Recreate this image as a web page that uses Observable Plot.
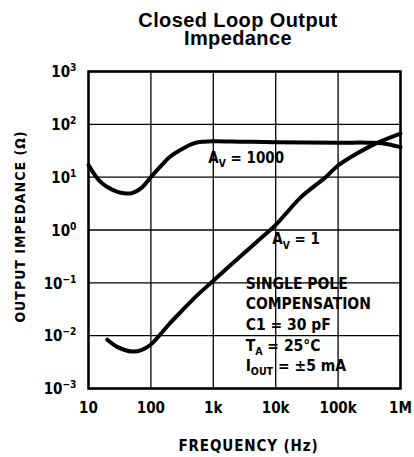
<!DOCTYPE html>
<html><head><meta charset="utf-8">
<script src="https://cdn.jsdelivr.net/npm/d3@7"></script>
<script src="https://cdn.jsdelivr.net/npm/@observablehq/plot@0.6"></script>
<style>
body{margin:0;background:#fff;}
#title{font-family:"Liberation Sans",Arial,sans-serif;font-weight:bold;font-size:20px;line-height:18px;letter-spacing:0.4px;text-align:center;padding-left:62px;width:352px;padding-top:11px;height:35px;color:#000;}
</style></head><body>
<div id="title">Closed Loop Output<br>Impedance</div>
<div id="chart"></div>
<script>
const freqTicks = [10, 100, 1e3, 1e4, 1e5, 1e6];
const freqTickLabels = ["10", "100", "1k", "10k", "100k", "1M"];
const impTicks = [1e-3, 1e-2, 1e-1, 1, 10, 100, 1000];
const impTickLabels = ["10^{−3}", "10^{−2}", "10^{−1}", "10^{0}", "10^{1}", "10^{2}", "10^{3}"];

const av1000Freq = [10, 12, 15, 20, 30, 40, 50, 70, 100, 150, 200, 300, 500, 700, 1000, 3000, 10000, 100000, 300000, 500000, 1000000];
const av1000Z    = [17, 12, 8.5, 6.5, 5.2, 4.9, 5.0, 6.2, 10, 17, 24, 33, 44, 47, 48, 47, 46, 45, 45, 44, 37];

const av1Freq = [20, 30, 50, 70, 100, 150, 200, 300, 500, 1000, 2000, 5000, 10000, 25000, 63000, 100000, 200000, 430000, 1000000];
const av1Z    = [0.0084, 0.0060, 0.0050, 0.0053, 0.0068, 0.0115, 0.017, 0.028, 0.052, 0.11, 0.23, 0.6, 1.25, 4.1, 10, 16.6, 28, 45, 67];

const labelFreq = [830, 8800, 3300, 3300, 3300, 3300, 3300];
const labelZ    = [23, 0.66, 0.0966, 0.0395, 0.0162, 0.0065, 0.0027];
const labelSize = [15, 15, 15.5, 15.5, 15.5, 15.5, 15.5];
const labelText = ["A_{V} = 1000", "A_{V} = 1", "SINGLE POLE", "COMPENSATION", "C1 = 30 pF", "T_{A} = 25°C", "I_{OUT} = ±5 mA"];

const toRows = (xs, ys) => xs.map((x, i) => ({x, y: ys[i]}));
const font = '"Liberation Sans Narrow","DejaVu Sans Condensed","Liberation Sans",sans-serif';

const chart = Plot.plot({
  width: 414,
  height: 411,
  marginLeft: 88,
  marginRight: 14,
  marginTop: 25,
  marginBottom: 69,
  style: {fontFamily: font, fontWeight: "bold", background: "#fff", color: "#000"},
  x: {type: "log", domain: [10, 1e6], axis: null},
  y: {type: "log", domain: [1e-3, 1e3], axis: null},
  marks: [
    Plot.ruleX(freqTicks, {stroke: "#000", strokeWidth: 1.3}),
    Plot.ruleY(impTicks, {stroke: "#000", strokeWidth: 1.3}),
    Plot.line(toRows(av1000Freq, av1000Z), {x: "x", y: "y", stroke: "#000", strokeWidth: 4, curve: "catmull-rom"}),
    Plot.line(toRows(av1Freq, av1Z), {x: "x", y: "y", stroke: "#000", strokeWidth: 4, curve: "catmull-rom"}),
    Plot.text(labelText.map((t, i) => ({t, x: labelFreq[i], y: labelZ[i], s: labelSize[i]})), {
      x: "x", y: "y", text: "t", textAnchor: "start", fontSize: "s", fontWeight: "bold",
      fill: "#000", ariaLabel: "annot"
    }),
    Plot.frame({stroke: "#000", strokeWidth: 2.5}),
    Plot.text(impTicks.map((v, i) => ({v, t: impTickLabels[i]})), {
      x: () => 10, y: "v", text: "t", textAnchor: "end", dx: -12, dy: 1, fontSize: 15, fontWeight: "bold", fill: "#000"
    }),
    Plot.text(freqTicks.map((v, i) => ({v, t: freqTickLabels[i]})), {
      x: "v", y: () => 1e-3, text: "t", dy: 20, fontSize: 15, fontWeight: "bold", fill: "#000"
    }),
    Plot.text(["FREQUENCY (Hz)"], {frameAnchor: "bottom", textAnchor: "middle", dx: 4, dy: 62, fontSize: 15, fontWeight: "bold", fill: "#000"}),
    Plot.text(["OUTPUT IMPEDANCE (Ω)"], {frameAnchor: "left", textAnchor: "middle", lineAnchor: "middle", dx: -68, dy: -3.5, rotate: -90, fontSize: 14, fontWeight: "bold", fill: "#000"})
  ]
});

// rich text: _{sub} and ^{sup}
const ns = "http://www.w3.org/2000/svg";
chart.querySelectorAll("text").forEach(t => {
  if (t.children.length) return;
  const s = t.textContent;
  if (!/[_^]\{/.test(s)) return;
  const fs = parseFloat(t.getAttribute("font-size") || t.parentNode.getAttribute("font-size") || 15);
  t.textContent = "";
  const re = /([_^])\{([^}]*)\}/g;
  let last = 0, m, shift = 0;
  const add = (str, dy, small) => {
    const sp = document.createElementNS(ns, "tspan");
    if (dy) sp.setAttribute("dy", dy);
    if (small) sp.setAttribute("font-size", fs * 0.68);
    sp.textContent = str;
    t.appendChild(sp);
  };
  while ((m = re.exec(s))) {
    if (m.index > last) { add(s.slice(last, m.index), -shift, false); shift = 0; }
    const d = m[1] === "_" ? fs * 0.3 : -fs * 0.4;
    add(m[2], d - shift, true);
    shift = d;
    last = re.lastIndex;
  }
  if (last < s.length) add(s.slice(last), -shift, false);
});
// white halo behind annotation texts (hides grid lines like the reference)
chart.querySelectorAll('g[aria-label="annot"] text').forEach(t => {
  t.setAttribute("stroke", "#fff");
  t.setAttribute("stroke-width", "7");
  t.setAttribute("stroke-linejoin", "round");
  t.setAttribute("paint-order", "stroke");
});
chart.querySelectorAll("text").forEach(t => {
  if (t.textContent === "FREQUENCY (Hz)") t.setAttribute("letter-spacing", "0.9");
  if (t.textContent === "OUTPUT IMPEDANCE (Ω)") t.setAttribute("letter-spacing", "1");
});
document.getElementById("chart").appendChild(chart);
</script>
</body></html>
